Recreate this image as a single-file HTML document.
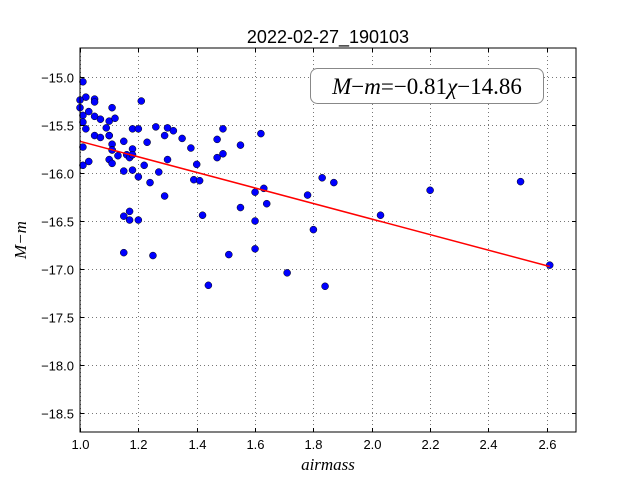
<!DOCTYPE html>
<html><head><meta charset="utf-8"><style>
body{margin:0;background:#fff;width:640px;height:480px;overflow:hidden}
svg text{font-family:"Liberation Sans",sans-serif}
</style></head><body>
<svg id="chart" width="640" height="480" xmlns="http://www.w3.org/2000/svg">
<rect x="0" y="0" width="640" height="480" fill="#fff"/>
<g id="grid"></g>
<g id="pts"></g>
<g id="fit"></g>
<rect x="80" y="48" width="496" height="384" fill="none" stroke="#000" stroke-width="1"/>
<g id="ticks"></g>
<text x="328" y="43" font-size="18" text-anchor="middle">2022-02-27_190103</text>
<text x="328" y="470" font-size="17" font-style="italic" text-anchor="middle" style="font-family:'Liberation Serif',serif">airmass</text>
<text x="26" y="240" font-size="17" font-style="italic" text-anchor="middle" transform="rotate(-90 26 240)" style="font-family:'Liberation Serif',serif">M−m</text>
<rect x="310.5" y="68.5" width="233" height="35" rx="7" fill="#fff" stroke="#888" stroke-width="1"/>
<text x="427" y="94" font-size="23" text-anchor="middle" style="font-family:'Liberation Serif',serif"><tspan font-style="italic">M</tspan>−<tspan font-style="italic">m</tspan>=−0.81<tspan font-style="italic">χ</tspan>−14.86</text>
</svg>
<script>
const xTicks=[1.0,1.2,1.4,1.6,1.8,2.0,2.2,2.4,2.6];
const yTicks=[-15.0,-15.5,-16.0,-16.5,-17.0,-17.5,-18.0,-18.5];
const airmass=[1.01,1.02,1.00,1.05,1.05,1.00,1.01,1.03,1.05,1.07,1.11,1.10,1.12,1.01,1.02,1.21,1.09,1.05,1.07,1.10,1.10,1.11,1.01,1.15,1.18,1.20,1.23,1.26,1.30,1.29,1.32,1.35,1.38,1.49,1.47,1.55,1.62,1.11,1.11,1.18,1.16,1.17,1.18,1.13,1.10,1.11,1.03,1.01,1.30,1.22,1.18,1.15,1.20,1.27,1.24,1.40,1.49,1.47,1.39,1.41,1.29,1.60,1.63,1.64,1.55,1.42,1.60,1.15,1.17,1.17,1.20,1.15,1.25,1.51,1.60,1.78,1.80,1.83,1.87,1.84,1.71,1.44,2.03,2.20,2.51,2.61];
const mag=[-15.05,-15.21,-15.24,-15.23,-15.26,-15.32,-15.40,-15.36,-15.41,-15.44,-15.32,-15.46,-15.43,-15.47,-15.54,-15.25,-15.53,-15.61,-15.63,-15.61,-15.61,-15.70,-15.73,-15.67,-15.54,-15.54,-15.68,-15.52,-15.53,-15.61,-15.56,-15.64,-15.74,-15.54,-15.65,-15.71,-15.59,-15.76,-15.76,-15.75,-15.81,-15.84,-15.81,-15.82,-15.86,-15.90,-15.88,-15.92,-15.86,-15.92,-15.97,-15.98,-16.04,-15.99,-16.10,-15.91,-15.80,-15.84,-16.07,-16.08,-16.24,-16.20,-16.16,-16.32,-16.36,-16.44,-16.50,-16.45,-16.40,-16.49,-16.49,-16.83,-16.86,-16.85,-16.79,-16.23,-16.59,-16.05,-16.10,-17.18,-17.04,-17.17,-16.44,-16.18,-16.09,-16.96];
const fitSlope=[-0.81];
const fitIntercept=[-14.86];
const fitRange=[1.0,2.61];
const X0=80,X1=576,Y0=48,Y1=432,xmin=1.0,xmax=2.7,ymax=-14.698,ymin=-18.698;
const sx=v=>X0+(v-xmin)/(xmax-xmin)*(X1-X0);
const sy=v=>Y0+(ymax-v)/(ymax-ymin)*(Y1-Y0);
const NS="http://www.w3.org/2000/svg";
function mk(tag,attrs,parent){const e=document.createElementNS(NS,tag);for(const k in attrs)e.setAttribute(k,attrs[k]);parent.appendChild(e);return e;}
const grid=document.getElementById('grid'),ticks=document.getElementById('ticks');
xTicks.forEach(t=>{const x=Math.round(sx(t))+0.5;
 const g=mk('line',{x1:x,x2:x,y1:Y0,y2:Y1,stroke:'#777','stroke-dasharray':'1,3'},grid);
 
 
 const a=mk('line',{x1:x,x2:x,y1:Y1,y2:Y1-4,stroke:'#000'},ticks);
 
 
 const b=mk('line',{x1:x,x2:x,y1:Y0,y2:Y0+4,stroke:'#000'},ticks);
 
 
 const l=mk('text',{x:x,y:Y1+17,'font-size':13,'text-anchor':'middle'},ticks);
 l.textContent=t.toFixed(1);
 
 
});
yTicks.forEach(t=>{const y=Math.round(sy(t))+0.5;
 const g=mk('line',{x1:X0,x2:X1,y1:y,y2:y,stroke:'#777','stroke-dasharray':'1,3'},grid);
 
 
 const a=mk('line',{x1:X0,x2:X0+4,y1:y,y2:y,stroke:'#000'},ticks);
 
 
 const b=mk('line',{x1:X1,x2:X1-4,y1:y,y2:y,stroke:'#000'},ticks);
 
 
 const l=mk('text',{x:X0-6,y:y+5,'font-size':13,'text-anchor':'end'},ticks);
 l.textContent='−'+Math.abs(t).toFixed(1);
 
 
});
const pts=document.getElementById('pts');
airmass.forEach((a,i)=>{
 const c=mk('circle',{cx:sx(a),cy:sy(mag[i]),r:3.5,fill:'#0000ff',stroke:'#000','stroke-width':0.5},pts);
 
 
});
const fit=document.getElementById('fit');
const ln=mk('line',{x1:sx(fitRange[0]),y1:sy(fitSlope[0]*fitRange[0]+fitIntercept[0]),x2:sx(fitRange[1]),y2:sy(fitSlope[0]*fitRange[1]+fitIntercept[0]),stroke:'#ff0000','stroke-width':1.5},fit);


</script>
</body></html>
